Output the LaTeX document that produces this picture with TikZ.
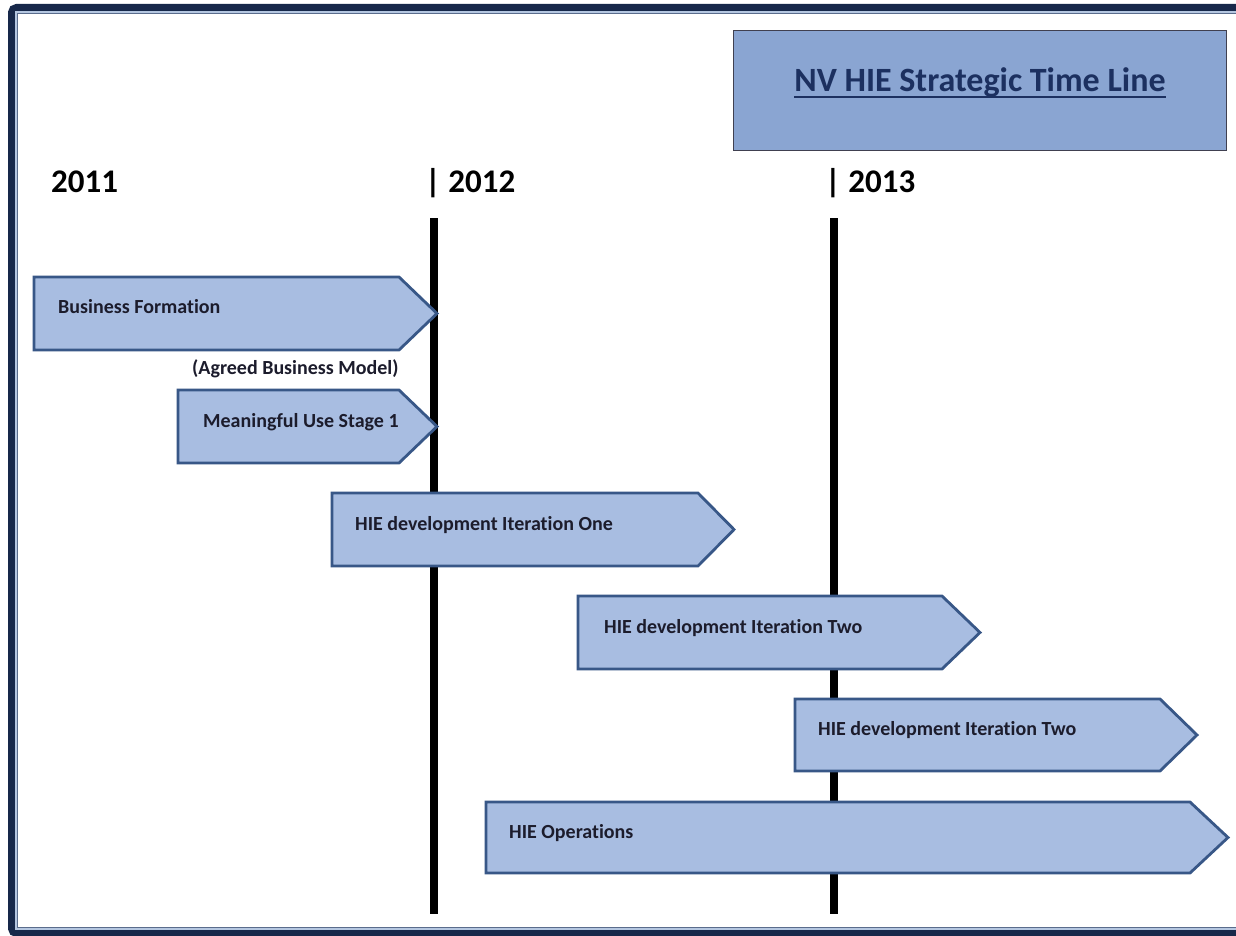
\documentclass[tikz,border=0pt]{standalone}
\usepackage{fontspec}
\setmainfont{Carlito}[Ligatures=NoCommon]
\definecolor{arrowfill}{HTML}{A8BDE1}
\definecolor{arrowline}{HTML}{385787}
\definecolor{titlefill}{HTML}{8AA5D2}
\definecolor{titleline}{HTML}{404050}
\definecolor{titletext}{HTML}{1C3060}
\definecolor{labeltext}{HTML}{1C1C2C}
\definecolor{framedark}{HTML}{17284A}
\definecolor{framelight}{HTML}{B4C6E0}
\definecolor{framemid}{HTML}{5A6C8C}
\newcommand{\phasearrow}[5]{%
  \draw[phase] (#1,#2) -- (#3,#2) -- (#4,{(#2+#5)/2}) -- (#3,#5) -- (#1,#5) -- cycle;}
\begin{document}
\begin{tikzpicture}[x=1pt,y=-1pt,
  phase/.style={draw=arrowline, fill=arrowfill, line width=2.8pt, line join=miter},
  phaselabel/.style={anchor=base west, font=\fontsize{20}{24}\selectfont\bfseries, text=labeltext, inner sep=0pt},
  year/.style={anchor=base west, font=\fontsize{33}{38}\selectfont\bfseries, text=black, inner sep=0pt},
  yearline/.style={line width=8pt, black},
  titlebox/.style={draw=titleline, fill=titlefill, line width=1pt}]
\useasboundingbox (0,0) rectangle (1236,936);
\fill[white] (0,0) rectangle (1236,936);
% frame
\draw[line width=7pt, framedark, rounded corners=5pt] (11.5,7.5) rectangle (1262,933.5);
\draw[line width=2pt, framelight] (16,12) rectangle (1257,929);
\draw[line width=1pt, framemid] (17.5,13.5) rectangle (1255,927.5);
% title
\draw[titlebox] (733,31) rectangle (1226,151);
\node[anchor=base, inner sep=0pt, font=\fontsize{34}{40}\selectfont\bfseries, text=titletext] (titletext) at (980,92) {NV HIE Strategic Time Line};
\draw[titletext, line width=2pt] ([yshift=-5pt]titletext.base west) -- ([yshift=-5pt]titletext.base east);
% years
\node[year] (y2011) at (51,193) {2011};
\node[year] (y2012) at (425,193) {| 2012};
\node[year] (y2013) at (825,193) {| 2013};
% vertical lines
\coordinate (l12top) at (434,218);
\coordinate (l12bot) at (434,914);
\coordinate (l13top) at (834,218);
\coordinate (l13bot) at (834,914);
\draw[yearline] (l12top) -- (l12bot);
\draw[yearline] (l13top) -- (l13bot);
% phases
\phasearrow{34}{277}{399}{437}{350}
\node[phaselabel] (bf) at (58,313) {Business Formation};
\node[phaselabel] (abm) at (192,374) {(Agreed Business Model)};
\phasearrow{178}{390}{399}{437}{463}
\node[phaselabel] (mu) at (203,427) {Meaningful Use Stage 1};
\phasearrow{332}{493}{698}{734}{566}
\node[phaselabel] (it1) at (355,530) {HIE development Iteration One};
\phasearrow{578}{596}{942}{980}{669}
\node[phaselabel] (it2a) at (604,633) {HIE development Iteration Two};
\phasearrow{795}{699}{1160}{1197}{771}
\node[phaselabel] (it2b) at (818,735) {HIE development Iteration Two};
\phasearrow{486}{802}{1190}{1228}{873}
\node[phaselabel] (ops) at (509,838) {HIE Operations};
\end{tikzpicture}
\end{document}
